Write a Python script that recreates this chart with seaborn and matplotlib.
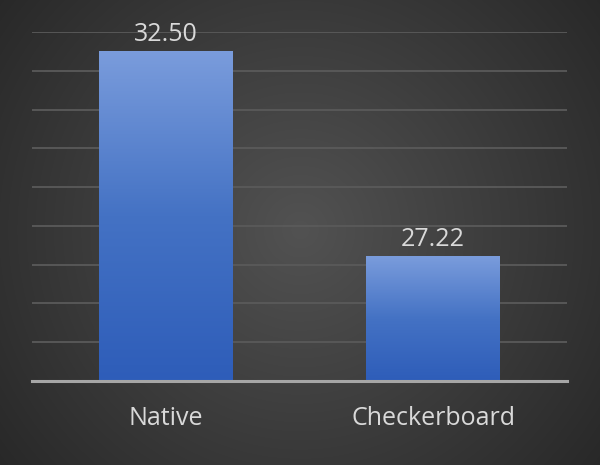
import numpy as np
import pandas as pd
import matplotlib
matplotlib.use("Agg")
import matplotlib.pyplot as plt
import seaborn as sns
from matplotlib.colors import LinearSegmentedColormap

categories = ["Native", "Checkerboard"]
values = [32.50, 27.22]
value_labels = ["32.50", "27.22"]

sns.set_theme(style="white")
plt.rcParams['font.family'] = ['Open Sans', 'DejaVu Sans']

fig = plt.figure(figsize=(6.0, 4.65), dpi=100)

# radial gradient background
bg = fig.add_axes([0, 0, 1, 1], zorder=-10)
yy, xx = np.mgrid[0:465, 0:600]
r = np.sqrt(((xx - 300) / 420.0) ** 2 + ((yy - 230) / 420.0) ** 2)
r = np.clip(r, 0, 1)
inner = np.array([0x52, 0x52, 0x52]) / 255
outer = np.array([0x24, 0x24, 0x24]) / 255
img = inner[None, None, :] * (1 - r[..., None]) + outer[None, None, :] * r[..., None]
bg.imshow(img, aspect="auto", extent=[0, 1, 0, 1])
bg.axis("off")

ax = fig.add_axes([32 / 600, 1 - 381 / 465, 535 / 600, 349 / 465])
ax.patch.set_alpha(0)

df = pd.DataFrame({"cat": categories, "val": values})
sns.barplot(data=df, x="cat", y="val", ax=ax, width=0.5, color="#4472c4",
            edgecolor="none", linewidth=0, zorder=3)

ymin, ymax = 24, 33
ax.set_ylim(ymin, ymax)
ax.set_xlim(-0.5, 1.5)
ax.set_yticks(np.arange(ymin, ymax + 1, 1))
ax.yaxis.grid(True, color="#5a5a5a", linewidth=1.3)
ax.set_axisbelow(True)
ax.tick_params(axis="y", left=False, labelleft=False)
ax.tick_params(axis="x", bottom=False, colors="#d9d9d9", labelsize=18, pad=12)
ax.set_xlabel("")
ax.set_ylabel("")
for s in ["top", "right", "left"]:
    ax.spines[s].set_visible(False)
ax.spines["bottom"].set_color("#a6a6a6")
ax.spines["bottom"].set_linewidth(2.2)
ax.spines["bottom"].set_zorder(5)

cmap = LinearSegmentedColormap.from_list(
    "bar", [(0.0, "#7a9cdc"), (0.5, "#4472c4"), (1.0, "#2e5db9")])
grad = np.linspace(0, 1, 256).reshape(-1, 1)
for p, lab in zip(ax.patches, value_labels):
    x0, w, h = p.get_x(), p.get_width(), p.get_height()
    top = p.get_y() + h
    bottom = max(p.get_y(), ymin)
    p.set_facecolor("none")
    im = ax.imshow(grad, cmap=cmap, aspect="auto", origin="upper",
                   extent=[x0, x0 + w, bottom, top], zorder=4)
    ax.annotate(lab, (x0 + w / 2, top), xytext=(0, 3), textcoords="offset points",
                ha="center", va="bottom", color="#d9d9d9", fontsize=18, zorder=6)

ax.set_xlim(-0.5, 1.5)
ax.set_ylim(ymin, ymax)

fig.savefig("out.png", dpi=100)
